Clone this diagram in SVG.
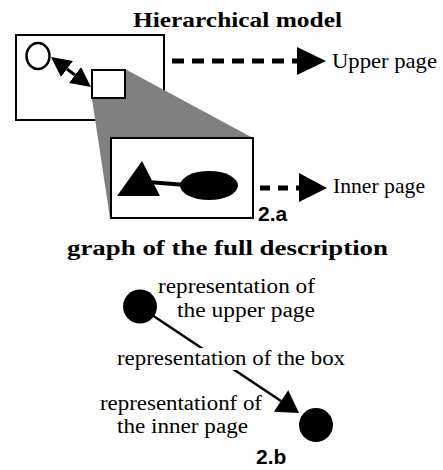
<svg xmlns="http://www.w3.org/2000/svg" width="443" height="470" viewBox="0 0 443 470">
<style>
.serif{font-family:"Liberation Serif","Times New Roman",serif;fill:#000}
.title{font-size:22px;font-weight:bold}
.lbl{font-size:21px}
.lbl2{font-size:20px}
.tag{font-family:"Liberation Sans",Arial,sans-serif;font-weight:bold;font-size:21px;fill:#000}
.box{fill:#fff;stroke:#000;stroke-width:2}
.dash{stroke:#000;stroke-width:5;fill:none}
.blk{fill:#000}
</style>
<defs>
<marker id="ah" markerUnits="userSpaceOnUse" markerWidth="20" markerHeight="20" viewBox="0 -9 18 18" refX="0" refY="0" orient="auto-start-reverse">
<path d="M0,-9 L18,0 L0,9 z" fill="#000"/>
</marker>
<marker id="ah2" markerUnits="userSpaceOnUse" markerWidth="22" markerHeight="26" viewBox="0 -12 20 24" refX="0" refY="0" orient="auto">
<path d="M0,-12 L20,0 L0,12 z" fill="#000"/>
</marker>
</defs>
<rect width="443" height="470" fill="#fff"/>
<text class="serif title" x="133" y="27" textLength="209" lengthAdjust="spacingAndGlyphs">Hierarchical model</text>
<g id="upper-page">
<rect class="box" x="16" y="35" width="148" height="85"/>
<polygon points="92,99 92,69 125,69 253,138 110,218" fill="#808080"/>
<ellipse cx="38" cy="56" rx="11.5" ry="13" fill="#fff" stroke="#000" stroke-width="2.5"/>
<rect id="box-small" class="box" x="92" y="70" width="33" height="28" stroke-width="2.5"/>
</g>
<g id="inner-page">
<rect class="box" x="111" y="138" width="142" height="80"/>
<polygon class="blk" points="117,196 160,196 142,161"/>
<line x1="148" y1="182" x2="186" y2="185" stroke="#000" stroke-width="4"/>
<ellipse class="blk" cx="209" cy="185.5" rx="29" ry="14.5"/>
</g>
<g id="graph-nodes">
<circle id="node-upper" class="blk" cx="140" cy="306.5" r="17"/>
<circle id="node-inner" class="blk" cx="316" cy="425" r="17"/>
</g>
<g id="connectors">
<line x1="67" y1="69" x2="75" y2="75" stroke="#000" stroke-width="3" marker-start="url(#ah)" marker-end="url(#ah)"/>
<line class="dash" x1="172" y1="61" x2="298" y2="61" stroke-dasharray="12 8"/>
<polygon class="blk" points="297,47 326,61 297,75"/>
<line class="dash" x1="260" y1="188" x2="300" y2="188" stroke-dasharray="10 8"/>
<polygon class="blk" points="299,173 327,188 299,202"/>
<line x1="152" y1="315" x2="281" y2="401" stroke="#000" stroke-width="2.5" marker-end="url(#ah2)"/>
</g>
<text class="serif lbl" x="332" y="68" textLength="105" lengthAdjust="spacingAndGlyphs">Upper page</text>
<text class="serif lbl" x="333" y="193" textLength="92" lengthAdjust="spacingAndGlyphs">Inner page</text>
<text class="tag" x="258" y="221">2.a</text>
<text class="serif title" x="67" y="255" textLength="321" lengthAdjust="spacingAndGlyphs">graph of the full description</text>
<text class="serif lbl2" x="158" y="293" textLength="157" lengthAdjust="spacingAndGlyphs">representation of</text>
<text class="serif lbl2" x="177" y="317" textLength="138" lengthAdjust="spacingAndGlyphs">the upper page</text>
<g id="edge-label">
<rect x="115" y="348" width="232" height="22" fill="#fff"/>
<text class="serif lbl2" x="117" y="365" textLength="228" lengthAdjust="spacingAndGlyphs">representation of the box</text>
</g>
<text class="serif lbl2" x="100" y="410" textLength="162" lengthAdjust="spacingAndGlyphs">representationf of</text>
<text class="serif lbl2" x="117" y="433" textLength="131" lengthAdjust="spacingAndGlyphs">the inner page</text>
<text class="tag" x="256" y="464">2.b</text>
</svg>
